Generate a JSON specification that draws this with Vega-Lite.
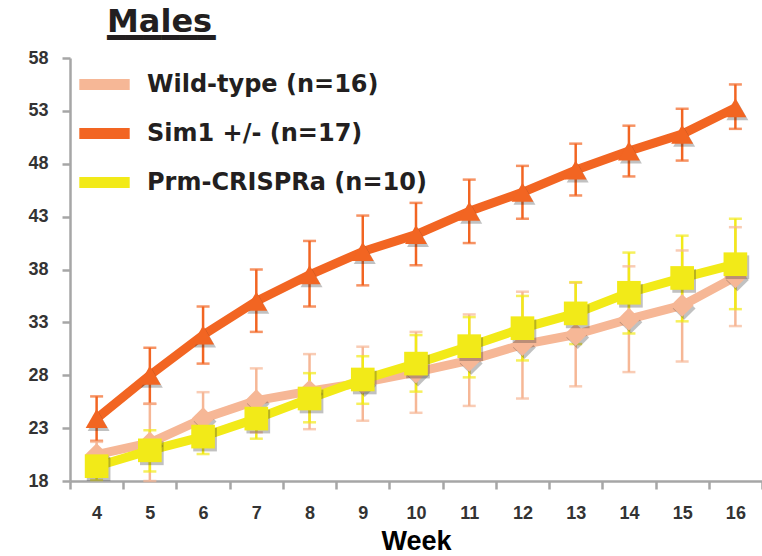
{
  "$schema": "https://vega.github.io/schema/vega-lite/v6.json",
  "autosize": {"type": "none"},
  "padding": {"left": 70, "top": 58, "right": 0, "bottom": 75},
  "width": 692,
  "height": 423,
  "background": "white",
  "title": {
    "text": "Males",
    "subtitle": "━━━━━━",
    "anchor": "start",
    "frame": "group",
    "dx": 37,
    "offset": -6,
    "font": "DejaVu Sans",
    "fontSize": 32,
    "fontWeight": "bold",
    "color": "#231f20",
    "subtitleFont": "DejaVu Sans Mono",
    "subtitleFontSize": 30,
    "subtitleColor": "#231f20",
    "subtitlePadding": -15
  },
  "data": {
    "values": [
      {"week": 4, "group": "Wild-type (n=16)", "mean": 20.5, "lo": 19.3, "hi": 21.7},
      {"week": 5, "group": "Wild-type (n=16)", "mean": 21.6, "lo": 18.0, "hi": 25.3},
      {"week": 6, "group": "Wild-type (n=16)", "mean": 23.9, "lo": 21.4, "hi": 26.4},
      {"week": 7, "group": "Wild-type (n=16)", "mean": 25.6, "lo": 22.6, "hi": 28.65},
      {"week": 8, "group": "Wild-type (n=16)", "mean": 26.5, "lo": 22.9, "hi": 30.0},
      {"week": 9, "group": "Wild-type (n=16)", "mean": 27.3, "lo": 23.7, "hi": 30.7},
      {"week": 10, "group": "Wild-type (n=16)", "mean": 28.3, "lo": 24.45, "hi": 32.1},
      {"week": 11, "group": "Wild-type (n=16)", "mean": 29.4, "lo": 25.1, "hi": 33.75},
      {"week": 12, "group": "Wild-type (n=16)", "mean": 30.9, "lo": 25.8, "hi": 35.9},
      {"week": 13, "group": "Wild-type (n=16)", "mean": 31.85, "lo": 26.95, "hi": 36.75},
      {"week": 14, "group": "Wild-type (n=16)", "mean": 33.3, "lo": 28.3, "hi": 38.3},
      {"week": 15, "group": "Wild-type (n=16)", "mean": 34.6, "lo": 29.3, "hi": 39.8},
      {"week": 16, "group": "Wild-type (n=16)", "mean": 37.3, "lo": 32.65, "hi": 42.0},
      {"week": 4, "group": "Prm-CRISPRa (n=10)", "mean": 19.4, "lo": 18.1, "hi": 20.6},
      {"week": 5, "group": "Prm-CRISPRa (n=10)", "mean": 20.9, "lo": 18.9, "hi": 22.8},
      {"week": 6, "group": "Prm-CRISPRa (n=10)", "mean": 22.2, "lo": 20.55, "hi": 23.85},
      {"week": 7, "group": "Prm-CRISPRa (n=10)", "mean": 23.9, "lo": 22.0, "hi": 25.8},
      {"week": 8, "group": "Prm-CRISPRa (n=10)", "mean": 25.8, "lo": 23.55, "hi": 28.2},
      {"week": 9, "group": "Prm-CRISPRa (n=10)", "mean": 27.6, "lo": 25.3, "hi": 29.8},
      {"week": 10, "group": "Prm-CRISPRa (n=10)", "mean": 29.1, "lo": 26.45, "hi": 31.8},
      {"week": 11, "group": "Prm-CRISPRa (n=10)", "mean": 30.75, "lo": 27.8, "hi": 33.5},
      {"week": 12, "group": "Prm-CRISPRa (n=10)", "mean": 32.45, "lo": 29.4, "hi": 35.5},
      {"week": 13, "group": "Prm-CRISPRa (n=10)", "mean": 33.85, "lo": 30.95, "hi": 36.8},
      {"week": 14, "group": "Prm-CRISPRa (n=10)", "mean": 35.8, "lo": 31.95, "hi": 39.6},
      {"week": 15, "group": "Prm-CRISPRa (n=10)", "mean": 37.2, "lo": 33.1, "hi": 41.2},
      {"week": 16, "group": "Prm-CRISPRa (n=10)", "mean": 38.5, "lo": 34.25, "hi": 42.8},
      {"week": 4, "group": "Sim1 +/- (n=17)", "mean": 23.9, "lo": 21.8, "hi": 26.0},
      {"week": 5, "group": "Sim1 +/- (n=17)", "mean": 28.0, "lo": 25.3, "hi": 30.6},
      {"week": 6, "group": "Sim1 +/- (n=17)", "mean": 31.8, "lo": 29.1, "hi": 34.5},
      {"week": 7, "group": "Sim1 +/- (n=17)", "mean": 35.0, "lo": 32.1, "hi": 38.0},
      {"week": 8, "group": "Sim1 +/- (n=17)", "mean": 37.5, "lo": 34.5, "hi": 40.7},
      {"week": 9, "group": "Sim1 +/- (n=17)", "mean": 39.7, "lo": 36.5, "hi": 43.1},
      {"week": 10, "group": "Sim1 +/- (n=17)", "mean": 41.3, "lo": 38.4, "hi": 44.3},
      {"week": 11, "group": "Sim1 +/- (n=17)", "mean": 43.5, "lo": 40.5, "hi": 46.5},
      {"week": 12, "group": "Sim1 +/- (n=17)", "mean": 45.3, "lo": 42.8, "hi": 47.8},
      {"week": 13, "group": "Sim1 +/- (n=17)", "mean": 47.4, "lo": 45.0, "hi": 49.9},
      {"week": 14, "group": "Sim1 +/- (n=17)", "mean": 49.2, "lo": 46.8, "hi": 51.6},
      {"week": 15, "group": "Sim1 +/- (n=17)", "mean": 50.8, "lo": 48.3, "hi": 53.2},
      {"week": 16, "group": "Sim1 +/- (n=17)", "mean": 53.3, "lo": 51.3, "hi": 55.5}
    ]
  },
  "encoding": {
    "x": {
      "field": "week",
      "type": "ordinal",
      "scale": {"paddingInner": 0, "paddingOuter": 0},
      "axis": {
        "title": "Week",
        "labelAngle": 0,
        "tickBand": "extent",
        "domainColor": "#a6a6a6",
        "domainWidth": 2.5,
        "tickColor": "#a6a6a6",
        "tickWidth": 2.5,
        "tickSize": 8,
        "labelFont": "Liberation Sans",
        "labelFontSize": 18,
        "labelFontWeight": "bold",
        "labelColor": "#333333",
        "labelPadding": 15,
        "titleFont": "Liberation Sans",
        "titleFontSize": 27,
        "titleFontWeight": "bold",
        "titleColor": "#000000",
        "titlePadding": 6,
        "grid": false
      }
    },
    "color": {
      "field": "group",
      "type": "nominal",
      "scale": {
        "domain": ["Wild-type (n=16)", "Sim1 +/- (n=17)", "Prm-CRISPRa (n=10)"],
        "range": ["#f6b796", "#f26522", "#f2ea18"]
      },
      "legend": {
        "title": null,
        "orient": "none",
        "legendX": 8,
        "legendY": 0,
        "padding": 0,
        "symbolType": "M-1.2,0H1.2",
        "symbolSize": 1764,
        "symbolStrokeWidth": 11,
        "symbolOpacity": 1,
        "labelFont": "DejaVu Sans",
        "labelFontSize": 24,
        "labelFontWeight": "bold",
        "labelColor": "#231f20",
        "labelOffset": 16,
        "labelLimit": 400,
        "rowPadding": -2
      }
    }
  },
  "layer": [
    {
      "mark": {"type": "rule", "strokeWidth": 2.5},
      "encoding": {
        "y": {"field": "lo", "type": "quantitative"},
        "y2": {"field": "hi"}
      }
    },
    {
      "mark": {"type": "tick", "size": 13, "thickness": 2.5, "orient": "horizontal"},
      "encoding": {
        "y": {"field": "lo", "type": "quantitative"}
      }
    },
    {
      "mark": {"type": "tick", "size": 13, "thickness": 2.5, "orient": "horizontal"},
      "encoding": {
        "y": {"field": "hi", "type": "quantitative"}
      }
    },
    {
      "mark": {"type": "line", "strokeWidth": 9, "strokeJoin": "round"},
      "encoding": {
        "y": {
          "field": "mean",
          "type": "quantitative",
          "scale": {"domain": [18, 58], "nice": false, "zero": false},
          "axis": {
            "title": null,
            "values": [18, 23, 28, 33, 38, 43, 48, 53, 58],
            "grid": false,
            "domainColor": "#a6a6a6",
            "domainWidth": 2.5,
            "tickColor": "#a6a6a6",
            "tickWidth": 2.5,
            "tickSize": 8,
            "labelFont": "Liberation Sans",
            "labelFontSize": 18,
            "labelFontWeight": "bold",
            "labelColor": "#333333",
            "labelPadding": 14
          }
        },
        "detail": {"field": "group"}
      }
    },
    {
      "transform": [{"filter": "datum.group == 'Wild-type (n=16)'"}],
      "mark": {"type": "point", "filled": true, "opacity": 0.3, "shape": "diamond", "size": 520, "xOffset": 2, "yOffset": 3},
      "encoding": {
        "y": {"field": "mean", "type": "quantitative"},
        "color": {"value": "#333333"}
      }
    },
    {
      "transform": [{"filter": "datum.group == 'Wild-type (n=16)'"}],
      "mark": {"type": "point", "filled": true, "opacity": 1, "shape": "diamond", "size": 520},
      "encoding": {
        "y": {"field": "mean", "type": "quantitative"}
      }
    },
    {
      "transform": [{"filter": "datum.group == 'Prm-CRISPRa (n=10)'"}],
      "mark": {"type": "point", "filled": true, "opacity": 0.3, "shape": "square", "size": 560, "xOffset": 2, "yOffset": 3},
      "encoding": {
        "y": {"field": "mean", "type": "quantitative"},
        "color": {"value": "#333333"}
      }
    },
    {
      "transform": [{"filter": "datum.group == 'Prm-CRISPRa (n=10)'"}],
      "mark": {"type": "point", "filled": true, "opacity": 1, "shape": "square", "size": 560},
      "encoding": {
        "y": {"field": "mean", "type": "quantitative"}
      }
    },
    {
      "transform": [{"filter": "datum.group == 'Sim1 +/- (n=17)'"}],
      "mark": {"type": "point", "filled": true, "opacity": 0.3, "shape": "triangle-up", "size": 480, "xOffset": 2, "yOffset": 3},
      "encoding": {
        "y": {"field": "mean", "type": "quantitative"},
        "color": {"value": "#333333"}
      }
    },
    {
      "transform": [{"filter": "datum.group == 'Sim1 +/- (n=17)'"}],
      "mark": {"type": "point", "filled": true, "opacity": 1, "shape": "triangle-up", "size": 480},
      "encoding": {
        "y": {"field": "mean", "type": "quantitative"}
      }
    }
  ],
  "config": {
    "view": {"stroke": null}
  }
}
